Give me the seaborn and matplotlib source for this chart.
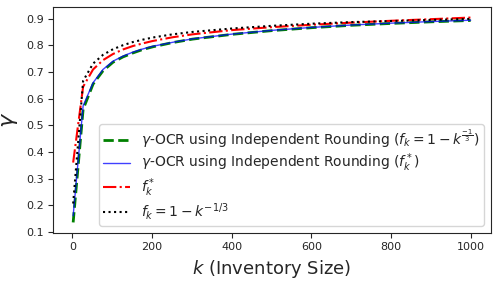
import matplotlib
matplotlib.use("Agg")
import matplotlib.pyplot as plt
import pandas as pd
import seaborn as sns

# inventory sizes sampled
k_values = [2, 27, 52, 77, 102, 127, 152, 177, 202, 252, 302,
            402, 502, 602, 702, 802, 902, 1000]

gamma_ocr_fixed = [0.135, 0.56, 0.655, 0.705, 0.737, 0.757, 0.772, 0.785,
                   0.795, 0.811, 0.824, 0.842, 0.856, 0.867, 0.876, 0.883,
                   0.889, 0.894]
gamma_ocr_star = [0.16, 0.573, 0.66, 0.71, 0.741, 0.76, 0.775, 0.787,
                  0.797, 0.812, 0.825, 0.843, 0.857, 0.868, 0.877, 0.884,
                  0.890, 0.895]
f_star = [0.36, 0.645, 0.71, 0.745, 0.768, 0.785, 0.798, 0.808, 0.817,
          0.831, 0.842, 0.858, 0.869, 0.878, 0.886, 0.893, 0.899, 0.905]
f_cube = [0.206, 0.667, 0.732, 0.765, 0.786, 0.801, 0.813, 0.822, 0.830,
          0.842, 0.851, 0.864, 0.874, 0.882, 0.888, 0.892, 0.896, 0.900]

labels = [r"$\gamma$-OCR using Independent Rounding "
          r"($f_k=1-k^{\frac{-1}{3}}$)",
          r"$\gamma$-OCR using Independent Rounding ($f_k^*$)",
          r"$f_k^*$",
          r"$f_k=1-k^{-1/3}$"]

df = pd.DataFrame({"k": k_values, "a": gamma_ocr_fixed, "b": gamma_ocr_star,
                   "c": f_star, "d": f_cube})

sns.set_style("ticks")
fig, ax = plt.subplots(figsize=(4.98, 2.81), dpi=100)
fig.subplots_adjust(left=0.107, right=0.985, bottom=0.172, top=0.974)

sns.lineplot(data=df, x="k", y="a", ax=ax, color="green", linestyle="--",
             linewidth=2, label=labels[0])
sns.lineplot(data=df, x="k", y="b", ax=ax, color="blue", linestyle="-",
             linewidth=1, alpha=0.75, label=labels[1])
sns.lineplot(data=df, x="k", y="c", ax=ax, color="red", linestyle="-.",
             linewidth=1.5, label=labels[2])
sns.lineplot(data=df, x="k", y="d", ax=ax, color="black", linestyle=":",
             linewidth=1.5, label=labels[3])

ax.set_xlabel(r"$k$ (Inventory Size)", fontsize=13)
ax.set_ylabel(r"$\gamma$", fontsize=16)
ax.tick_params(labelsize=8)
ax.set_yticks([0.1, 0.2, 0.3, 0.4, 0.5, 0.6, 0.7, 0.8, 0.9])
ax.legend(loc="lower right", fontsize=10, labelspacing=0.15,
          borderpad=0.25, handlelength=2.0)

plt.savefig("out.png")
